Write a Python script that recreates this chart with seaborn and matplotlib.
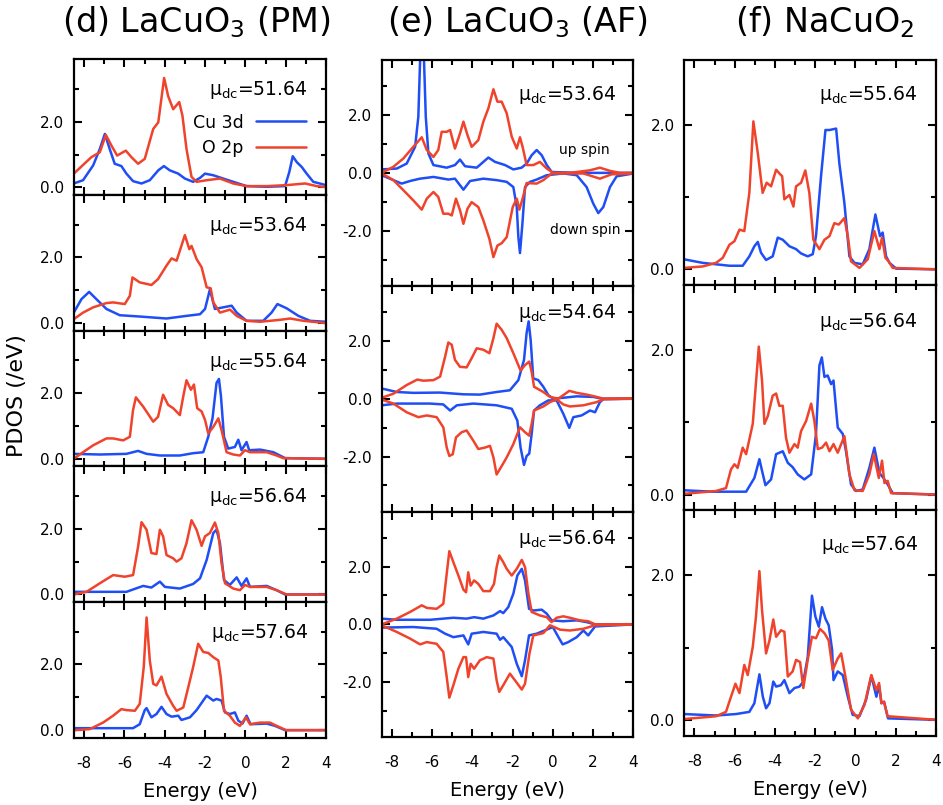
import matplotlib
matplotlib.use('Agg')
import matplotlib.pyplot as plt
from matplotlib.lines import Line2D
import pandas as pd
import seaborn as sns

sns.set_theme(style='ticks')
plt.rcParams['font.family'] = ['DejaVu Sans']
plt.rcParams['axes.unicode_minus'] = False
plt.rcParams['mathtext.default'] = 'regular'
for key in ['text.color', 'axes.labelcolor', 'xtick.color', 'ytick.color', 'axes.edgecolor']:
    plt.rcParams[key] = 'black'

BLUE = '#1f4ef5'
RED = '#f0432c'

X_TICKS = [-8, -6, -4, -2, 0, 2, 4]
X_TICK_LABELS = ['-8', '-6', '-4', '-2', '0', '2', '4']
X_MINOR = [-7, -5, -3, -1, 1, 3]

TITLES = ['(d) LaCuO$_3$ (PM)', '(e) LaCuO$_3$ (AF)', '(f) NaCuO$_2$']
MU_D = ['51.64', '53.64', '55.64', '56.64', '57.64']
MU_E = ['53.64', '54.64', '56.64']
MU_F = ['55.64', '56.64', '57.64']
LEGEND_LABELS = ['Cu 3d', 'O 2p']

# ---------------- column (d): LaCuO3 PM, (energy, PDOS) ----------------
D1_CU = [(-8.51,0.12),(-8.05,0.22),(-7.55,0.67),(-7.22,1.17),(-6.97,1.63),(-6.73,1.17),(-6.48,0.72),(-6.15,0.65),(-5.9,0.42),(-5.57,0.19),(-5.15,0.12),(-4.74,0.22),(-4.32,0.52),(-4.04,0.65),(-3.75,0.52),(-3.33,0.42),(-3.0,0.27),(-2.59,0.17),(-2.25,0.29),(-2.0,0.42),(-1.59,0.37),(-1.1,0.27),(-0.6,0.17),(0.06,0.04),(1.06,0.02),(1.97,0.04),(2.18,0.47),(2.35,0.95),(2.55,0.77),(2.8,0.62),(3.04,0.42),(3.37,0.17),(4.0,0.07)]
D1_O = [(-8.51,0.42),(-7.64,0.92),(-7.22,1.07),(-6.92,1.6),(-6.64,1.27),(-6.36,0.97),(-5.93,1.12),(-5.65,0.92),(-5.32,0.72),(-4.99,0.87),(-4.57,1.78),(-4.32,1.98),(-4.03,3.33),(-3.83,2.78),(-3.58,2.38),(-3.28,2.6),(-3.12,2.18),(-2.92,1.17),(-2.67,0.32),(-2.42,0.17),(-1.92,0.22),(-1.26,0.27),(-0.6,0.12),(0.06,0.04),(1.06,0.04),(2.05,0.07),(2.96,0.12),(3.54,0.04),(4.0,0.01)]
D2_CU = [(-8.51,0.32),(-8.13,0.73),(-7.75,0.95),(-7.39,0.73),(-6.89,0.43),(-6.23,0.24),(-5.24,0.2),(-3.91,0.14),(-2.92,0.22),(-2.25,0.27),(-2.0,0.43),(-1.76,1.02),(-1.51,0.43),(-1.1,0.48),(-0.68,0.53),(-0.43,0.32),(0.06,0.07),(0.89,0.07),(1.3,0.32),(1.59,0.58),(2.05,0.45),(2.63,0.22),(3.21,0.07),(4.0,0.04)]
D2_O = [(-8.51,0.12),(-8.05,0.32),(-7.55,0.48),(-6.89,0.61),(-6.56,0.63),(-5.98,0.58),(-5.73,0.83),(-5.6,1.39),(-5.24,1.24),(-4.66,1.16),(-4.33,1.34),(-3.91,1.75),(-3.66,1.97),(-3.41,1.9),(-3.0,2.68),(-2.78,2.25),(-2.67,2.35),(-2.42,1.95),(-2.17,1.7),(-1.92,1.09),(-1.72,1.06),(-1.59,0.63),(-1.26,0.32),(-0.76,0.41),(-0.43,0.22),(0.06,0.07),(0.73,0.04),(1.72,0.1),(2.22,0.14),(2.88,0.07),(4.0,0.0)]
D3_CU = [(-8.51,0.15),(-7.22,0.13),(-5.9,0.15),(-5.32,0.24),(-4.9,0.15),(-4.24,0.1),(-3.25,0.1),(-2.59,0.17),(-2.09,0.2),(-1.84,0.67),(-1.63,1.23),(-1.43,2.31),(-1.31,2.43),(-1.21,1.9),(-1.06,0.67),(-0.85,0.31),(-0.52,0.36),(-0.35,0.58),(-0.19,0.26),(0.06,0.51),(0.19,0.26),(0.73,0.28),(1.39,0.2),(1.97,0.02),(4.0,0.0)]
D3_O = [(-8.51,0.0),(-8.05,0.2),(-7.55,0.41),(-6.89,0.62),(-6.56,0.62),(-6.06,0.56),(-5.73,0.67),(-5.57,1.49),(-5.43,1.87),(-5.07,1.59),(-4.57,1.13),(-4.33,1.28),(-4.08,1.95),(-3.83,1.64),(-3.58,1.54),(-3.25,1.33),(-3.08,1.9),(-2.92,2.39),(-2.7,2.1),(-2.55,2.26),(-2.39,1.54),(-2.17,1.44),(-2.0,1.18),(-1.84,0.77),(-1.59,0.97),(-1.34,1.23),(-1.18,0.87),(-0.93,0.2),(-0.6,0.13),(-0.27,0.1),(-0.02,0.26),(0.23,0.2),(1.06,0.2),(1.55,0.1),(1.88,0.02),(4.0,0.0)]
D4_CU = [(-8.51,0.08),(-7.22,0.08),(-5.9,0.08),(-5.07,0.26),(-4.66,0.21),(-4.24,0.39),(-3.99,0.23),(-3.25,0.18),(-2.59,0.32),(-2.25,0.49),(-1.92,1.05),(-1.59,1.87),(-1.43,1.97),(-1.26,1.56),(-1.06,0.44),(-0.77,0.29),(-0.43,0.52),(-0.19,0.26),(0.06,0.49),(0.23,0.23),(1.06,0.26),(1.55,0.13),(1.97,0.0),(4.0,0.0)]
D4_O = [(-8.51,0.0),(-7.88,0.08),(-7.22,0.34),(-6.56,0.59),(-5.98,0.54),(-5.57,0.59),(-5.32,1.46),(-5.15,2.2),(-4.9,1.97),(-4.66,1.26),(-4.41,1.23),(-4.24,1.97),(-4.08,1.77),(-3.91,1.2),(-3.58,1.1),(-3.41,1.0),(-3.17,1.1),(-2.92,1.56),(-2.67,2.26),(-2.42,1.97),(-2.17,1.48),(-2.0,1.77),(-1.76,1.87),(-1.51,2.19),(-1.34,1.87),(-1.18,0.95),(-1.01,0.34),(-0.6,0.18),(-0.27,0.13),(-0.02,0.29),(0.23,0.23),(1.06,0.23),(1.55,0.13),(2.05,0.0),(4.0,0.0)]
D5_CU = [(-8.51,0.06),(-7.22,0.06),(-5.57,0.06),(-5.24,0.18),(-4.99,0.61),(-4.9,0.67),(-4.66,0.39),(-4.41,0.49),(-4.16,0.71),(-3.91,0.49),(-3.66,0.41),(-3.33,0.44),(-3.17,0.31),(-2.75,0.39),(-2.42,0.61),(-2.09,0.9),(-1.92,1.05),(-1.59,0.9),(-1.43,0.95),(-1.18,0.9),(-1.01,0.54),(-0.77,0.49),(-0.52,0.54),(-0.35,0.29),(-0.14,0.2),(0.06,0.44),(0.26,0.18),(1.06,0.2),(1.47,0.13),(1.97,0.0),(4.0,0.0)]
D5_O = [(-8.51,0.0),(-7.72,0.03),(-7.06,0.23),(-6.56,0.44),(-6.15,0.64),(-5.9,0.61),(-5.48,0.59),(-5.24,0.8),(-5.04,1.92),(-4.9,3.43),(-4.74,2.12),(-4.57,1.41),(-4.41,1.36),(-4.16,1.63),(-3.91,1.1),(-3.58,0.74),(-3.41,0.59),(-3.08,0.69),(-2.83,1.31),(-2.59,1.92),(-2.34,2.63),(-2.09,2.38),(-1.84,2.35),(-1.59,2.22),(-1.34,2.12),(-1.22,1.61),(-1.06,0.59),(-0.77,0.44),(-0.52,0.23),(-0.27,0.13),(0.03,0.39),(0.23,0.18),(0.73,0.23),(1.22,0.23),(1.55,0.13),(2.02,0.0),(4.0,0.0)]

# ---------------- column (e): LaCuO3 AF, spin resolved ----------------
E1_CU_UP = [(-8.5,0.12),(-7.75,0.15),(-7.26,0.32),(-6.84,0.9),(-6.68,1.94),(-6.56,4.6),(-6.43,4.6),(-6.31,1.94),(-6.18,0.67),(-5.93,0.27),(-5.27,0.18),(-4.86,0.27),(-4.61,0.46),(-4.36,0.23),(-3.78,0.18),(-3.45,0.38),(-3.2,0.53),(-2.87,0.38),(-2.37,0.27),(-1.96,0.12),(-1.55,0.18),(-1.3,0.32),(-1.05,0.61),(-0.8,0.79),(-0.55,0.61),(-0.3,0.27),(-0.05,0.03),(1.35,0.0),(2.18,0.0),(4.0,0.0)]
E1_O_UP = [(-8.5,0.0),(-7.92,0.21),(-7.42,0.5),(-6.93,0.9),(-6.51,1.23),(-6.26,0.79),(-5.93,0.55),(-5.69,0.79),(-5.52,1.42),(-5.27,1.42),(-5.1,1.48),(-4.86,0.84),(-4.61,1.36),(-4.44,1.77),(-4.24,1.31),(-4.03,0.9),(-3.7,1.13),(-3.45,1.77),(-3.2,2.23),(-2.95,2.89),(-2.75,2.46),(-2.54,2.46),(-2.29,2.06),(-2.04,1.25),(-1.79,0.84),(-1.63,1.23),(-1.5,0.9),(-1.3,0.27),(-0.97,0.27),(-0.64,0.38),(-0.3,0.15),(0.03,0.0),(0.85,0.0),(1.85,0.09),(2.34,0.18),(2.84,0.07),(3.34,0.0),(4.0,0.0)]
E1_O_DN = [(-8.5,-0.02),(-7.92,-0.25),(-7.42,-0.6),(-6.93,-0.95),(-6.51,-1.27),(-6.26,-0.89),(-5.93,-0.66),(-5.69,-0.83),(-5.44,-1.41),(-5.19,-1.41),(-5.02,-1.47),(-4.81,-0.89),(-4.61,-1.29),(-4.44,-1.76),(-4.24,-1.24),(-4.03,-1.01),(-3.7,-1.18),(-3.45,-1.64),(-3.15,-2.28),(-2.95,-2.91),(-2.75,-2.51),(-2.54,-2.43),(-2.29,-2.22),(-1.99,-1.18),(-1.79,-0.89),(-1.66,-1.27),(-1.5,-0.89),(-1.3,-0.35),(-0.8,-0.37),(-0.47,-0.25),(-0.05,-0.02),(1.52,-0.02),(2.34,-0.2),(2.92,-0.05),(4.0,-0.02)]
E1_CU_DN = [(-8.5,-0.08),(-7.92,-0.25),(-7.51,-0.37),(-7.09,-0.28),(-6.6,-0.2),(-5.93,-0.14),(-5.19,-0.23),(-4.86,-0.2),(-4.44,-0.58),(-4.11,-0.28),(-3.45,-0.2),(-2.79,-0.25),(-2.29,-0.31),(-1.96,-0.49),(-1.79,-1.18),(-1.71,-2.22),(-1.63,-2.77),(-1.51,-1.76),(-1.38,-0.49),(-1.13,-0.31),(-0.8,-0.23),(-0.3,-0.08),(0.52,-0.02),(1.19,-0.08),(1.68,-0.49),(2.01,-1.06),(2.26,-1.39),(2.51,-1.18),(2.84,-0.49),(3.17,-0.12),(4.0,-0.02)]
E2_CU_UP = [(-8.5,0.35),(-7.75,0.23),(-6.93,0.2),(-5.6,0.21),(-4.44,0.15),(-3.62,0.14),(-2.79,0.23),(-2.13,0.29),(-1.71,0.64),(-1.43,1.34),(-1.3,2.27),(-1.2,2.67),(-1.1,2.03),(-0.97,0.7),(-0.72,0.64),(-0.47,0.41),(-0.22,0.12),(0.03,0.0),(0.52,0.03),(1.19,0.08),(2.01,0.06),(2.43,0.0),(4.0,0.0)]
E2_O_UP = [(-8.5,0.03),(-7.92,0.17),(-7.26,0.47),(-6.73,0.66),(-6.43,0.62),(-5.93,0.64),(-5.6,0.76),(-5.35,1.45),(-5.19,1.94),(-5.02,1.86),(-4.86,1.34),(-4.61,1.1),(-4.28,1.08),(-4.03,1.4),(-3.78,1.74),(-3.45,1.69),(-3.15,1.57),(-2.95,2.09),(-2.79,2.59),(-2.54,2.38),(-2.29,2.09),(-1.96,1.57),(-1.6,0.97),(-1.38,1.16),(-1.17,1.28),(-1.05,0.93),(-0.93,0.41),(-0.47,0.23),(-0.14,0.06),(0.28,0.0),(0.52,0.12),(0.82,0.27),(1.19,0.2),(1.68,0.14),(2.18,0.06),(2.51,0.0),(4.0,0.0)]
E2_O_DN = [(-8.5,-0.03),(-7.92,-0.17),(-7.26,-0.47),(-6.68,-0.64),(-6.26,-0.58),(-5.77,-0.64),(-5.44,-0.99),(-5.27,-1.69),(-5.14,-1.98),(-4.97,-1.92),(-4.81,-1.34),(-4.53,-1.16),(-4.28,-1.1),(-3.95,-1.45),(-3.7,-1.74),(-3.37,-1.69),(-3.12,-1.63),(-2.95,-2.03),(-2.79,-2.62),(-2.54,-2.33),(-2.29,-2.03),(-1.96,-1.57),(-1.63,-0.99),(-1.38,-1.16),(-1.17,-1.28),(-1.05,-0.87),(-0.93,-0.41),(-0.47,-0.27),(-0.14,-0.12),(0.19,-0.02),(0.52,-0.2),(0.85,-0.27),(1.52,-0.23),(2.18,-0.12),(2.51,-0.02),(4.0,0.0)]
E2_CU_DN = [(-8.5,-0.23),(-7.75,-0.17),(-6.1,-0.17),(-5.44,-0.2),(-5.1,-0.41),(-4.77,-0.23),(-3.95,-0.17),(-2.79,-0.23),(-2.04,-0.35),(-1.76,-0.76),(-1.6,-1.69),(-1.43,-2.29),(-1.3,-1.98),(-1.17,-1.9),(-1.05,-1.22),(-0.93,-0.41),(-0.64,-0.23),(-0.22,-0.06),(0.19,-0.06),(0.52,-0.52),(0.82,-1.01),(1.02,-0.64),(1.43,-0.58),(1.85,-0.41),(2.1,-0.47),(2.34,-0.12),(2.51,-0.02),(4.0,0.0)]
E3_CU_UP = [(-8.5,0.2),(-7.75,0.16),(-6.1,0.16),(-4.94,0.23),(-4.28,0.2),(-3.91,0.25),(-3.45,0.2),(-2.95,0.31),(-2.62,0.46),(-2.46,0.39),(-2.21,0.6),(-1.96,1.06),(-1.76,1.69),(-1.54,1.92),(-1.38,1.52),(-1.18,0.54),(-0.97,0.48),(-0.55,0.51),(-0.3,0.37),(-0.06,0.14),(0.52,0.11),(1.19,0.14),(1.68,0.08),(2.1,0.0),(4.0,0.0)]
E3_O_UP = [(-8.5,0.0),(-7.75,0.2),(-7.09,0.43),(-6.51,0.66),(-6.26,0.57),(-5.77,0.54),(-5.44,0.71),(-5.27,1.75),(-5.14,2.53),(-4.94,2.15),(-4.69,1.69),(-4.44,1.2),(-4.31,1.11),(-4.2,1.8),(-4.08,1.34),(-3.91,1.52),(-3.7,1.4),(-3.45,1.15),(-3.12,1.15),(-2.92,1.4),(-2.79,1.98),(-2.66,2.38),(-2.46,2.15),(-2.29,1.92),(-2.04,1.69),(-1.79,1.92),(-1.54,2.23),(-1.38,1.98),(-1.21,1.06),(-1.05,0.43),(-0.64,0.31),(-0.3,0.25),(-0.06,0.08),(0.19,0.23),(0.52,0.28),(0.85,0.23),(1.35,0.14),(1.76,0.11),(2.1,0.0),(4.0,0.0)]
E3_O_DN = [(-8.5,-0.03),(-7.75,-0.26),(-7.09,-0.49),(-6.59,-0.69),(-6.26,-0.61),(-5.77,-0.67),(-5.44,-0.95),(-5.27,-1.82),(-5.14,-2.53),(-4.94,-2.1),(-4.69,-1.53),(-4.44,-1.13),(-4.31,-1.13),(-4.2,-1.82),(-4.08,-1.36),(-3.91,-1.53),(-3.62,-1.24),(-3.28,-1.13),(-2.95,-1.18),(-2.79,-1.93),(-2.66,-2.33),(-2.46,-2.1),(-2.13,-1.7),(-1.88,-1.93),(-1.54,-2.25),(-1.38,-2.05),(-1.16,-1.01),(-0.97,-0.38),(-0.47,-0.3),(-0.14,-0.03),(0.36,-0.18),(0.85,-0.21),(1.52,-0.15),(2.1,-0.03),(4.0,0.0)]
E3_CU_DN = [(-8.5,-0.11),(-6.93,-0.09),(-5.77,-0.15),(-5.35,-0.32),(-4.94,-0.44),(-4.44,-0.38),(-4.2,-0.69),(-4.03,-0.32),(-3.45,-0.26),(-2.79,-0.32),(-2.62,-0.53),(-2.46,-0.44),(-2.04,-0.78),(-1.79,-1.36),(-1.54,-1.79),(-1.38,-1.24),(-1.18,-0.38),(-0.8,-0.32),(-0.3,-0.18),(0.0,-0.09),(0.28,-0.44),(0.49,-0.69),(0.77,-0.61),(1.19,-0.44),(1.52,-0.21),(1.76,-0.38),(2.1,-0.07),(4.0,0.0)]

# ---------------- column (f): NaCuO2 ----------------
F1_CU = [(-8.53,0.14),(-7.59,0.09),(-6.26,0.05),(-5.6,0.05),(-5.27,0.18),(-5.02,0.32),(-4.85,0.38),(-4.69,0.23),(-4.44,0.13),(-4.11,0.18),(-3.86,0.44),(-3.61,0.41),(-3.28,0.32),(-2.95,0.28),(-2.7,0.22),(-2.37,0.18),(-2.12,0.21),(-1.96,0.46),(-1.71,1.29),(-1.49,1.93),(-1.29,1.93),(-0.96,1.95),(-0.8,1.47),(-0.55,0.92),(-0.3,0.18),(-0.05,0.09),(0.36,0.07),(0.69,0.28),(0.99,0.76),(1.22,0.46),(1.35,0.51),(1.52,0.18),(1.69,0.09),(2.02,0.01),(4.0,0.0)]
F1_O = [(-8.53,0.02),(-7.59,0.04),(-6.92,0.09),(-6.59,0.16),(-6.26,0.34),(-6.01,0.39),(-5.76,0.55),(-5.52,0.53),(-5.27,1.06),(-5.07,2.05),(-4.85,1.61),(-4.61,1.06),(-4.41,1.2),(-4.19,1.15),(-3.94,1.38),(-3.78,1.33),(-3.64,1.29),(-3.53,0.97),(-3.28,1.03),(-3.08,0.87),(-2.95,1.15),(-2.7,1.2),(-2.49,1.37),(-2.29,1.06),(-2.09,0.41),(-1.79,0.28),(-1.54,0.41),(-1.29,0.46),(-1.05,0.64),(-0.83,0.62),(-0.55,0.71),(-0.38,0.46),(-0.22,0.11),(0.2,0.02),(0.61,0.14),(0.94,0.53),(1.19,0.28),(1.32,0.44),(1.49,0.16),(1.65,0.11),(1.85,0.02),(4.0,0.0)]
F2_CU = [(-8.53,0.06),(-7.09,0.04),(-5.43,0.04),(-5.02,0.23),(-4.77,0.49),(-4.64,0.33),(-4.47,0.13),(-4.19,0.21),(-3.94,0.56),(-3.61,0.6),(-3.36,0.44),(-3.12,0.38),(-2.87,0.28),(-2.54,0.21),(-2.2,0.28),(-1.96,0.84),(-1.79,1.79),(-1.67,1.9),(-1.54,1.63),(-1.38,1.65),(-1.21,1.53),(-1.09,1.58),(-0.88,0.93),(-0.63,0.84),(-0.47,0.6),(-0.22,0.14),(0.03,0.05),(0.36,0.07),(0.69,0.37),(0.94,0.65),(1.19,0.3),(1.39,0.23),(1.6,0.14),(1.85,0.02),(4.0,0.0)]
F2_O = [(-8.53,0.01),(-6.92,0.05),(-6.43,0.09),(-6.18,0.35),(-6.01,0.42),(-5.85,0.37),(-5.6,0.65),(-5.43,0.56),(-5.1,0.98),(-4.8,2.05),(-4.64,1.58),(-4.52,0.98),(-4.35,1.09),(-4.11,1.37),(-3.94,1.4),(-3.78,1.23),(-3.61,1.23),(-3.45,0.79),(-3.28,0.58),(-3.03,0.7),(-2.87,0.65),(-2.7,0.88),(-2.45,1.02),(-2.2,1.26),(-2.04,1.02),(-1.87,0.63),(-1.66,0.65),(-1.46,0.72),(-1.29,0.6),(-1.09,0.7),(-0.88,0.58),(-0.55,0.81),(-0.3,0.28),(-0.05,0.06),(0.36,0.05),(0.69,0.28),(0.91,0.56),(1.16,0.23),(1.32,0.47),(1.44,0.16),(1.6,0.19),(1.77,0.02),(4.0,0.0)]
F3_CU = [(-8.53,0.08),(-6.92,0.06),(-5.93,0.08),(-5.27,0.11),(-5.02,0.23),(-4.77,0.63),(-4.6,0.32),(-4.44,0.16),(-4.27,0.23),(-4.08,0.53),(-3.94,0.46),(-3.7,0.48),(-3.53,0.55),(-3.28,0.37),(-3.03,0.44),(-2.78,0.46),(-2.59,0.53),(-2.37,0.87),(-2.16,1.72),(-1.99,1.43),(-1.82,1.29),(-1.66,1.56),(-1.49,1.4),(-1.33,1.31),(-1.16,0.97),(-1.09,0.55),(-0.88,0.67),(-0.63,0.62),(-0.38,0.32),(-0.14,0.07),(0.2,0.05),(0.53,0.28),(0.79,0.61),(1.04,0.32),(1.17,0.48),(1.29,0.23),(1.42,0.25),(1.62,0.02),(4.0,0.0)]
F3_O = [(-8.53,0.01),(-6.92,0.05),(-6.43,0.11),(-6.18,0.32),(-5.96,0.5),(-5.76,0.37),(-5.52,0.76),(-5.35,0.62),(-5.1,1.01),(-4.94,1.43),(-4.77,2.06),(-4.64,1.52),(-4.44,0.92),(-4.27,1.1),(-4.08,1.39),(-3.94,1.15),(-3.7,1.24),(-3.53,1.22),(-3.36,0.6),(-3.12,0.67),(-2.95,0.83),(-2.75,0.8),(-2.59,0.44),(-2.37,0.83),(-2.16,1.15),(-1.96,1.13),(-1.76,1.26),(-1.54,1.2),(-1.33,1.1),(-1.13,0.69),(-0.88,0.85),(-0.71,0.92),(-0.5,0.6),(-0.22,0.14),(0.12,0.02),(0.45,0.21),(0.79,0.62),(1.04,0.41),(1.17,0.51),(1.29,0.23),(1.42,0.25),(1.59,0.05),(4.0,0.0)]

PANELS_D = [(D1_CU, D1_O), (D2_CU, D2_O), (D3_CU, D3_O), (D4_CU, D4_O), (D5_CU, D5_O)]
PANELS_E = [(E1_CU_UP, E1_O_UP, E1_CU_DN, E1_O_DN),
            (E2_CU_UP, E2_O_UP, E2_CU_DN, E2_O_DN),
            (E3_CU_UP, E3_O_UP, E3_CU_DN, E3_O_DN)]
PANELS_F = [(F1_CU, F1_O), (F2_CU, F2_O), (F3_CU, F3_O)]

W, H = 943, 805
fig = plt.figure(figsize=(W / 100, H / 100), dpi=100)


def add_ax(left, top, width, height):
    return fig.add_axes([left / W, 1 - (top + height) / H, width / W, height / H])


def draw(ax, pairs, color):
    df = pd.DataFrame(pairs, columns=['Energy', 'PDOS'])
    sns.lineplot(data=df, x='Energy', y='PDOS', color=color, linewidth=1.8,
                 sort=False, estimator=None, ax=ax)


def style(ax, ylim, yticks, yminor, bottom):
    ax.set_xlim(-8.5, 4)
    ax.set_ylim(*ylim)
    ax.set_xticks(X_TICKS)
    ax.set_xticks(X_MINOR, minor=True)
    ax.set_yticks(yticks)
    ax.set_yticks(yminor, minor=True)
    ax.set_yticklabels(['%.1f' % v for v in yticks])
    ax.set_xlabel('')
    ax.set_ylabel('')
    for s in ax.spines.values():
        s.set_linewidth(1.6)
        s.set_color('black')
    ax.tick_params(which='both', direction='in', top=True, right=True,
                   width=1.5, color='black', labelcolor='black', labelsize=11, pad=7)
    ax.tick_params(which='major', length=6)
    ax.tick_params(which='minor', length=3.5)
    if bottom:
        ax.set_xticklabels(X_TICK_LABELS)
        ax.tick_params(axis='x', pad=13)
        ax.set_xlabel('Energy (eV)', fontsize=14, labelpad=8, color='black')
    else:
        ax.tick_params(axis='x', labelbottom=False)


def mu_label(ax, val, dx, dy):
    ax.annotate('μ$_{dc}$=' + val, xy=(1, 1), xycoords='axes fraction',
                xytext=(-dx, -dy), textcoords='offset pixels',
                ha='right', va='top', fontsize=13.5, color='black')


# column (d)
hd = (737.7 - 59.3) / 5
for i, (cu, o) in enumerate(PANELS_D):
    ax = add_ax(74, 59.3 + i * hd, 252, hd)
    draw(ax, cu, BLUE)
    draw(ax, o, RED)
    style(ax, (-0.23, 3.9), [0, 2], [1, 3], i == 4)
    mu_label(ax, MU_D[i], 18, 20)
    if i == 0:
        handles = [Line2D([], [], color=BLUE, lw=1.8), Line2D([], [], color=RED, lw=1.8)]
        leg = ax.legend(handles, LEGEND_LABELS, markerfirst=False, frameon=False,
                        loc='upper right', bbox_to_anchor=(0.921, 0.60), fontsize=12.5,
                        handlelength=2.9, handletextpad=0.7, labelspacing=0.45,
                        borderpad=0, borderaxespad=0)
        for t in leg.get_texts():
            t.set_color('black')

# column (e)
he = (737.3 - 60) / 3
e_dy = [24, 16, 16]
for i, (cu_up, o_up, cu_dn, o_dn) in enumerate(PANELS_E):
    ax = add_ax(381.7, 60 + i * he, 251.6, he)
    draw(ax, cu_up, BLUE)
    draw(ax, cu_dn, BLUE)
    draw(ax, o_up, RED)
    draw(ax, o_dn, RED)
    style(ax, (-3.9, 3.9), [-2, 0, 2], [-3, -1, 1, 3], i == 2)
    mu_label(ax, MU_E[i], 17, e_dy[i])
    if i == 0:
        ax.text(1.55, 0.79, 'up spin', ha='center', va='center', fontsize=10, color='black')
        ax.text(1.6, -1.98, 'down spin', ha='center', va='center', fontsize=10, color='black')

# column (f)
hf = (735.7 - 60) / 3
f_dy = [24, 26, 24]
for i, (cu, o) in enumerate(PANELS_F):
    ax = add_ax(684.3, 60 + i * hf, 251.7, hf)
    draw(ax, cu, BLUE)
    draw(ax, o, RED)
    style(ax, (-0.22, 2.9), [0, 2], [1], i == 2)
    mu_label(ax, MU_F[i], 18, f_dy[i])

# titles and common y label
for txt, xc in zip(TITLES, [196, 517, 825]):
    fig.text(xc / W, 1 - 32 / H, txt, ha='center', va='baseline', fontsize=24, color='black')
fig.text(17 / W, 1 - 396 / H, 'PDOS (/eV)', rotation=90, ha='center', va='center',
         fontsize=16, color='black')

fig.savefig('out.png', dpi=100)
